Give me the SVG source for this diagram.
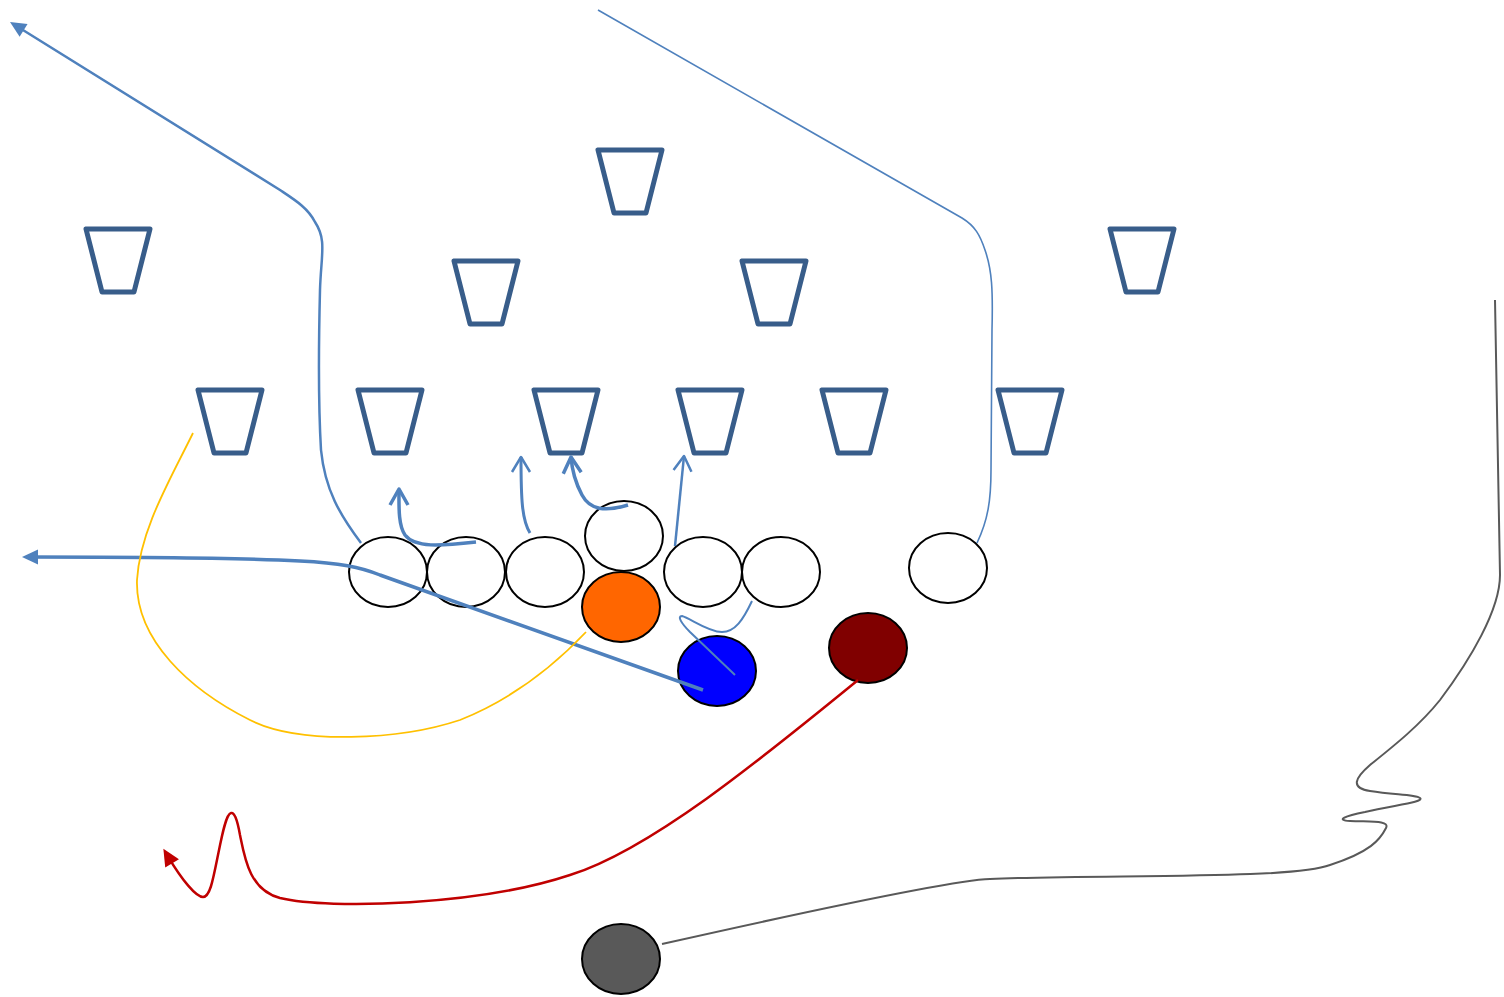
<svg xmlns="http://www.w3.org/2000/svg" width="1504" height="997" viewBox="0 0 1504 997">
<style>
.trap{fill:none;stroke:#385D8A;stroke-width:5;stroke-linejoin:round}
.pl{stroke:#000;stroke-width:2}
.route{fill:none;stroke:#4F81BD;stroke-linecap:butt}
</style>
<defs>
<path id="tr" d="M-32,0 L32,0 L16,63 L-16,63 Z"/>
<marker id="fa" markerUnits="userSpaceOnUse" markerWidth="30" markerHeight="30" viewBox="-15 -15 30 30" refX="0" refY="0" orient="auto" overflow="visible"><path d="M10,0 L-6,-7.5 L-6,7.5 Z" fill="#4F81BD"/></marker>
<marker id="fr" markerUnits="userSpaceOnUse" markerWidth="30" markerHeight="30" viewBox="-15 -15 30 30" refX="0" refY="0" orient="auto" overflow="visible"><path d="M10,0 L-7,-8 L-7,8 Z" fill="#C00000"/></marker>
<marker id="oa" markerUnits="userSpaceOnUse" markerWidth="30" markerHeight="30" viewBox="-20 -15 30 30" refX="0" refY="0" orient="auto" overflow="visible"><path d="M-16,-9 L0,0 L-16,9" fill="none" stroke="#4F81BD" stroke-width="3.5" stroke-linejoin="round"/></marker>
<marker id="ob" markerUnits="userSpaceOnUse" markerWidth="30" markerHeight="30" viewBox="-20 -15 30 30" refX="0" refY="0" orient="auto" overflow="visible"><path d="M-15,-9 L0,0 L-15,9" fill="none" stroke="#4F81BD" stroke-width="2.5" stroke-linejoin="round"/></marker>
</defs>
<rect width="1504" height="997" fill="#fff"/>
<g id="defense">
<use href="#tr" class="trap" x="630" y="150"/>
<use href="#tr" class="trap" x="118" y="229"/>
<use href="#tr" class="trap" x="486" y="261"/>
<use href="#tr" class="trap" x="774" y="261"/>
<use href="#tr" class="trap" x="1142" y="229"/>
<use href="#tr" class="trap" x="230" y="390"/>
<use href="#tr" class="trap" x="390" y="390"/>
<use href="#tr" class="trap" x="566" y="390"/>
<use href="#tr" class="trap" x="710" y="390"/>
<use href="#tr" class="trap" x="854" y="390"/>
<use href="#tr" class="trap" x="1030" y="390"/>
</g>
<g id="offense">
<ellipse id="lt" class="pl" cx="388" cy="572" rx="39" ry="35" fill="#fff"/>
<ellipse id="lg" class="pl" cx="466" cy="572" rx="39" ry="35" fill="#fff"/>
<ellipse id="c" class="pl" cx="545" cy="572" rx="39" ry="35" fill="#fff"/>
<ellipse id="qbup" class="pl" cx="624" cy="536" rx="39" ry="35" fill="#fff"/>
<ellipse id="rg" class="pl" cx="703" cy="572" rx="39" ry="35" fill="#fff"/>
<ellipse id="rt" class="pl" cx="781" cy="572" rx="39" ry="35" fill="#fff"/>
<ellipse id="te" class="pl" cx="948" cy="568" rx="39" ry="35" fill="#fff"/>
<ellipse id="orange" class="pl" cx="621" cy="607" rx="39" ry="35" fill="#FF6600"/>
<ellipse id="blue" class="pl" cx="717" cy="671" rx="39" ry="35" fill="#0000FF"/>
<ellipse id="maroon" class="pl" cx="868" cy="648" rx="39" ry="35" fill="#800000"/>
<ellipse id="gray" class="pl" cx="621" cy="959" rx="39" ry="35" fill="#595959"/>
</g>
<g id="connectors">
<path class="route" stroke-width="2.5" d="M361,543 C340,515 325,490 321,450 C318,400 319,330 320,290 C321,255 327,240 315,222 C308,208 295,200 280,190 L18.5,27.3" marker-end="url(#fa)"/>
<path class="route" stroke-width="1.6" d="M598,10 L962,218 C975,226 980,235 985,250 C992,270 993,290 992,330 L991,470 C991,500 988,520 977,543"/>
<path class="route" stroke-width="3.5" d="M703,690 L380,575 C360,567 340,563 300,561 C240,558 150,557 32,557" marker-end="url(#fa)"/>
<path class="route" stroke-width="3.5" d="M476,542 C440,546 415,548 405,535 C398,525 399,505 399,489" marker-end="url(#oa)"/>
<path class="route" stroke-width="3" d="M530,533 C522,520 521,500 521,457" marker-end="url(#ob)"/>
<path class="route" stroke-width="3.5" d="M628,505 C605,512 590,510 582,495 C575,482 572,470 571,457" marker-end="url(#oa)"/>
<path class="route" stroke-width="2.5" d="M675,546 L684,456" marker-end="url(#ob)"/>
<path class="route" stroke-width="2" d="M752,601 C743,620 735,632 722,632 C708,632 690,618 682,616 C677,616 681,623 690,632 L735,675"/>
<path fill="none" stroke="#FFC000" stroke-width="1.8" d="M193,433 C170,480 140,530 137,580 C135,640 190,690 250,720 C300,745 400,740 460,720 C510,700 550,670 586,632"/>
<path fill="none" stroke="#C00000" stroke-width="2.5" d="M858,680 C760,760 650,850 570,875 C480,905 330,910 280,898 C250,890 245,860 240,835 C237,818 234,812 231,813 C226,814 222,835 218,855 C213,880 210,897 203,897 C196,897 182,880 168.5,857.4" marker-end="url(#fr)"/>
<path fill="none" stroke="#595959" stroke-width="2" d="M662,944 C760,922 950,880 990,879 C1100,874 1290,880 1330,865 C1370,852 1380,840 1386,828 C1390,820 1370,822 1350,821 C1335,820 1345,816 1365,812 C1395,805 1425,802 1420,798 C1415,794 1395,795 1370,791 C1350,788 1355,778 1370,765 C1395,745 1420,725 1440,700 C1470,660 1500,610 1500,575 L1495,300"/>
</g>
</svg>
